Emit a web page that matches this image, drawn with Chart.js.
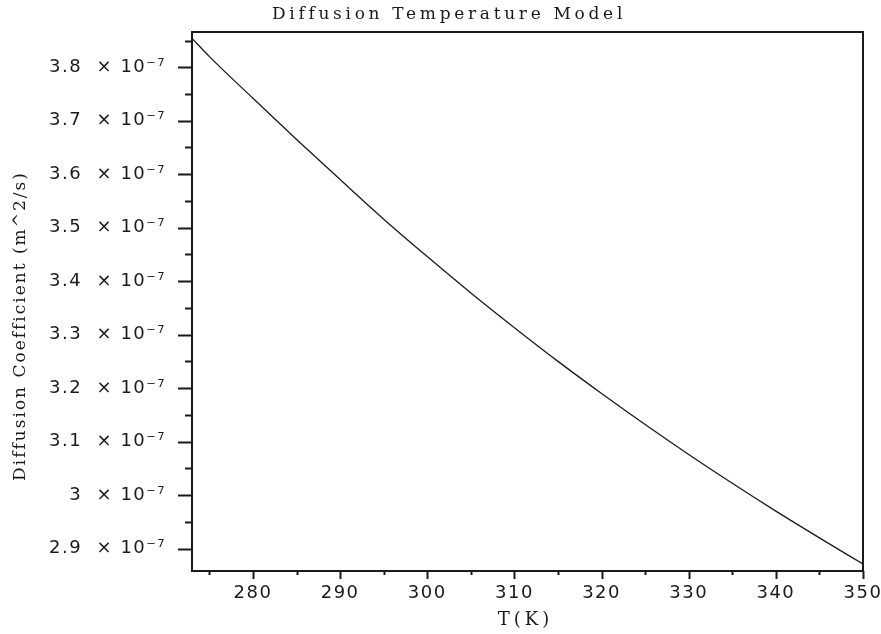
<!DOCTYPE html>
<html>
<head>
<meta charset="utf-8">
<title>Diffusion Temperature Model</title>
<script src="https://cdn.jsdelivr.net/npm/chart.js@4.4.1/dist/chart.umd.min.js"></script>
<style>
  html, body { margin: 0; padding: 0; background: #fff; }
  #wrap { width: 881px; height: 634px; }
</style>
</head>
<body>
<div id="wrap"><canvas id="plot" width="881" height="634"></canvas></div>
<script>
// temperature (K) and diffusion coefficient (m^2/s)
const temperature = [273, 275, 280, 285, 290, 295, 300, 305, 310, 315, 320, 325, 330, 335, 340, 345, 350];
const diffusion = [
  3.854e-7, 3.820e-7, 3.742e-7, 3.665e-7, 3.590e-7, 3.516e-7, 3.446e-7, 3.378e-7, 3.313e-7,
  3.250e-7, 3.190e-7, 3.132e-7, 3.076e-7, 3.022e-7, 2.970e-7, 2.920e-7, 2.871e-7
];

// axis ticks
const xTicks = [280, 290, 300, 310, 320, 330, 340, 350];
const xMinorTicks = [275, 285, 295, 305, 315, 325, 335, 345];
const yTicks = [2.9e-7, 3.0e-7, 3.1e-7, 3.2e-7, 3.3e-7, 3.4e-7, 3.5e-7, 3.6e-7, 3.7e-7, 3.8e-7];
const yTickLabels = [
  '2.9  × 10⁻⁷', '3  × 10⁻⁷', '3.1  × 10⁻⁷', '3.2  × 10⁻⁷', '3.3  × 10⁻⁷',
  '3.4  × 10⁻⁷', '3.5  × 10⁻⁷', '3.6  × 10⁻⁷', '3.7  × 10⁻⁷', '3.8  × 10⁻⁷'
];
const yMinorTicks = [2.95e-7, 3.05e-7, 3.15e-7, 3.25e-7, 3.35e-7, 3.45e-7, 3.55e-7, 3.65e-7, 3.75e-7, 3.85e-7];

const INK = '#1a1a1a';
const tickFont = { family: 'DejaVu Sans', size: 18 };
const serif = '"DejaVu Serif", "Liberation Serif", serif';

// scales should not push the plot area in for overhanging labels
function noOverhang(s) {
  s.paddingLeft = 0; s.paddingRight = 0; s.paddingTop = 0; s.paddingBottom = 0;
}

// wider spacing for the tick labels drawn by the scales
const spacingPlugin = {
  id: 'spacing',
  beforeDraw(chart) { chart.ctx.letterSpacing = '1.5px'; }
};

// box round the plot, tick marks and the three titles
const framePlugin = {
  id: 'frame',
  afterDraw(chart) {
    const { ctx, chartArea: a, scales } = chart;
    ctx.save();
    ctx.strokeStyle = INK;
    ctx.lineWidth = 2;
    ctx.strokeRect(a.left, a.top, a.right - a.left, a.bottom - a.top);

    ctx.beginPath();
    yTicks.forEach(v => {
      const y = Math.round(scales.y.getPixelForValue(v)) + 0.5;
      ctx.moveTo(a.left - 14, y); ctx.lineTo(a.left, y);
    });
    yMinorTicks.forEach(v => {
      const y = Math.round(scales.y.getPixelForValue(v)) + 0.5;
      ctx.moveTo(a.left - 7, y); ctx.lineTo(a.left, y);
    });
    xTicks.forEach(v => {
      const x = Math.round(scales.x.getPixelForValue(v)) + 0.5;
      ctx.moveTo(x, a.bottom); ctx.lineTo(x, a.bottom + 8);
    });
    xMinorTicks.forEach(v => {
      const x = Math.round(scales.x.getPixelForValue(v)) + 0.5;
      ctx.moveTo(x, a.bottom); ctx.lineTo(x, a.bottom + 4);
    });
    ctx.stroke();

    ctx.fillStyle = INK;
    ctx.textAlign = 'center';
    ctx.textBaseline = 'middle';

    ctx.font = '17px ' + serif;
    ctx.letterSpacing = '3.7px';
    ctx.fillText('Diffusion Temperature Model', 449, 15);

    ctx.font = '18px ' + serif;
    ctx.letterSpacing = '4px';
    ctx.fillText('T(K)', (a.left + a.right) / 2 - 2, 620);

    ctx.translate(21, 326);
    ctx.rotate(-Math.PI / 2);
    ctx.font = '17px ' + serif;
    ctx.letterSpacing = '2px';
    ctx.fillText('Diffusion Coefficient (m^2/s)', 0, 0);
    ctx.restore();
  }
};

new Chart(document.getElementById('plot'), {
  type: 'line',
  data: {
    datasets: [{
      data: temperature.map((t, i) => ({ x: t, y: diffusion[i] })),
      borderColor: INK,
      borderWidth: 1.3,
      pointRadius: 0,
      cubicInterpolationMode: 'monotone',
      fill: false
    }]
  },
  options: {
    responsive: false,
    devicePixelRatio: 1,
    animation: false,
    layout: { padding: { top: 32, right: 18, left: 0, bottom: 0 } },
    plugins: { legend: { display: false }, tooltip: { enabled: false }, title: { display: false } },
    scales: {
      x: {
        type: 'linear',
        min: 273,
        max: 350,
        afterBuildTicks: s => { s.ticks = xTicks.map(v => ({ value: v })); },
        afterFit: s => { s.height = 63; noOverhang(s); },
        grid: { display: false, drawTicks: false },
        border: { display: false },
        ticks: { font: tickFont, color: INK, padding: 12, maxRotation: 0, callback: v => String(v) }
      },
      y: {
        type: 'linear',
        min: 2.858e-7,
        max: 3.866e-7,
        afterBuildTicks: s => { s.ticks = yTicks.map(v => ({ value: v })); },
        afterFit: s => { s.width = 192; noOverhang(s); },
        grid: { display: false, drawTicks: false },
        border: { display: false },
        ticks: { font: tickFont, color: INK, padding: 26, callback: (v, i) => yTickLabels[i] }
      }
    }
  },
  plugins: [spacingPlugin, framePlugin]
});
</script>
</body>
</html>
